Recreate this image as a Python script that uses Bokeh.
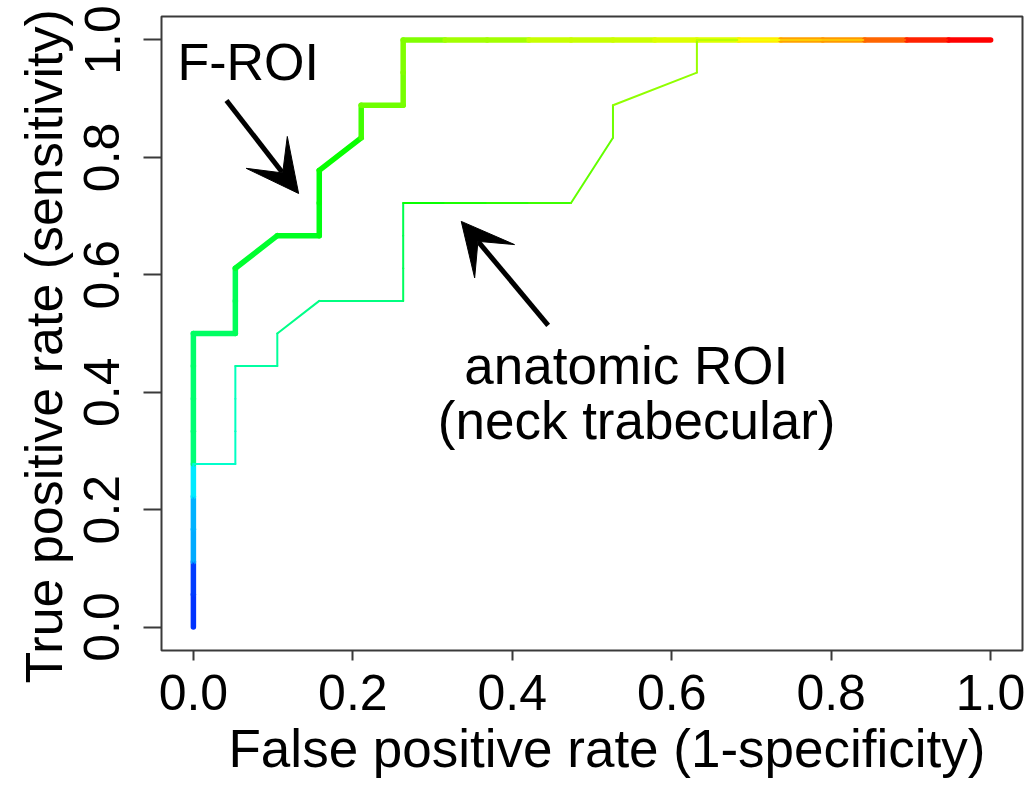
import colorsys
from bokeh.plotting import figure
from bokeh.models import (ColumnDataSource, FixedTicker, PrintfTickFormatter,
                          Label, Arrow, VeeHead, Range1d, Title)
from bokeh.embed import file_html
from bokeh.resources import INLINE

# ---------------- data ----------------
N_NEG = 19   # negatives (fpr denominator)
N_POS = 18   # positives (tpr denominator)

# F-ROI ROC curve: counts of false positives / true positives at each cutoff
froi_fp = [0, 0, 0, 0, 0, 0, 0, 0, 0, 0, 1, 1, 1, 2, 3, 3, 3, 4, 4, 5, 5, 5,
           6, 7, 8, 9, 10, 11, 12, 13, 14, 15, 16, 17, 18, 19]
froi_tp = [0, 1, 2, 3, 4, 5, 6, 7, 8, 9, 9, 10, 11, 12, 12, 13, 14, 15, 16, 16, 17, 18,
           18, 18, 18, 18, 18, 18, 18, 18, 18, 18, 18, 18, 18, 18]
# colour of cutoff (rainbow hue, degrees) at each point
froi_hue = [230, 228, 226, 200, 198, 185, 148, 147, 146, 145,
            143, 141, 140, 131, 128, 124, 122, 118, 105, 94, 92, 90,
            90, 82, 82, 73, 73, 72, 68, 68, 56, 38, 36, 24, 8, 0]

# anatomic ROI (neck trabecular) ROC curve
anat_fp = [0, 0, 0, 0, 0, 0, 1, 1, 1, 1, 2, 2, 3, 4, 5, 5, 5, 5, 6, 7, 8, 9,
           10, 10, 12, 12, 13, 14, 15, 16, 17, 18, 19]
anat_tp = [0, 1, 2, 3, 4, 5, 5, 6, 7, 8, 8, 9, 10, 10, 10, 11, 12, 13, 13, 13, 13, 13,
           15, 16, 17, 18, 18, 18, 18, 18, 18, 18, 18]
anat_hue = [230, 228, 226, 200, 198, 185, 168, 166, 165, 164,
            158, 156, 152, 150, 150, 142, 140, 138, 118, 114, 110, 106,
            97, 94, 86, 84, 76, 62, 48, 46, 24, 8, 0]

x_ticks = [0.0, 0.2, 0.4, 0.6, 0.8, 1.0]
y_ticks = [0.0, 0.2, 0.4, 0.6, 0.8, 1.0]

x_title = "False positive rate (1-specificity)"
y_title = "True positive rate (sensitivity)"

FONT = "Liberation Sans"
BOX = "#3a3a3a"


def hue_hex(h):
    r, g, b = colorsys.hsv_to_rgb(h / 360.0, 1.0, 1.0)
    return "#%02x%02x%02x" % (round(r * 255), round(g * 255), round(b * 255))


def seg_source(fp, tp, hue):
    fpr = [v / N_NEG for v in fp]
    tpr = [v / N_POS for v in tp]
    return ColumnDataSource(dict(
        x0=fpr[:-1], y0=tpr[:-1], x1=fpr[1:], y1=tpr[1:],
        color=[hue_hex(h) for h in hue[1:]]))


p = figure(frame_width=861, frame_height=634,
           min_border_left=161, min_border_right=10, min_border_top=16, min_border_bottom=135,
           x_range=Range1d(-0.04, 1.04), y_range=Range1d(-0.04, 1.04),
           output_backend="svg", toolbar_location=None,
           background_fill_color="white", border_fill_color="white")

p.xgrid.visible = False
p.ygrid.visible = False
p.outline_line_color = BOX
p.outline_line_width = 2

p.segment("x0", "y0", "x1", "y1", source=seg_source(froi_fp, froi_tp, froi_hue),
          line_color="color", line_width=5.5, line_cap="round")
p.segment("x0", "y0", "x1", "y1", source=seg_source(anat_fp, anat_tp, anat_hue),
          line_color="color", line_width=2, line_cap="round")

# axes
for ax, ticks in ((p.xaxis, x_ticks), (p.yaxis, y_ticks)):
    ax.ticker = FixedTicker(ticks=ticks)
    ax.formatter = PrintfTickFormatter(format="%.1f")
    ax.axis_line_color = None
    ax.major_tick_line_color = BOX
    ax.major_tick_line_width = 2
    ax.major_tick_in = 0
    ax.minor_tick_line_color = None
    ax.major_label_text_font = FONT
    ax.major_label_text_font_size = "50px"
    ax.major_label_text_color = "black"

p.xaxis.major_tick_out = 10
p.yaxis.major_tick_out = 18
p.xaxis.major_label_standoff = 14
p.yaxis.major_label_standoff = 24
p.yaxis.major_label_orientation = "vertical"

# axis titles, offset along the axis like the R original
p.add_layout(Title(text=x_title, align="left", offset=67, vertical_align="bottom",
                   standoff=8, text_font=FONT, text_font_size="53px",
                   text_font_style="normal", text_color="black"), "below")
p.add_layout(Title(text=y_title, align="left", offset=-33, vertical_align="bottom",
                   standoff=18, text_font=FONT, text_font_size="52px",
                   text_font_style="normal", text_color="black"), "left")

# annotations
p.add_layout(Label(x=-0.02, y=0.963, text="F-ROI", text_font=FONT,
                   text_font_size="52px", text_color="black",
                   text_baseline="alphabetic", text_align="left"))
p.add_layout(Label(x=0.543, y=0.445, text="anatomic ROI", text_font=FONT,
                   text_font_size="53px", text_color="black",
                   text_baseline="alphabetic", text_align="center"))
p.add_layout(Label(x=0.556, y=0.352, text="(neck trabecular)", text_font=FONT,
                   text_font_size="53px", text_color="black",
                   text_baseline="alphabetic", text_align="center"))

p.add_layout(Arrow(end=VeeHead(size=52, fill_color="black", line_color="black"),
                   x_start=0.0415, y_start=0.897, x_end=0.132, y_end=0.7385,
                   line_color="black", line_width=5))
p.add_layout(Arrow(end=VeeHead(size=52, fill_color="black", line_color="black"),
                   x_start=0.445, y_start=0.514, x_end=0.336, y_end=0.691,
                   line_color="black", line_width=5))

open("out.html", "w").write(file_html(p, INLINE))
